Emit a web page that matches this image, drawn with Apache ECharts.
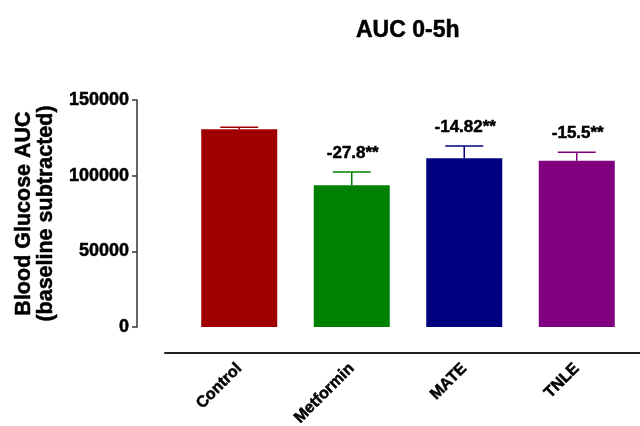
<!DOCTYPE html>
<html>
<head>
<meta charset="utf-8">
<script src="https://cdn.jsdelivr.net/npm/echarts@6/dist/echarts.min.js"></script>
<style>html,body{margin:0;padding:0;background:#fff}#c{width:640px;height:426px}</style>
</head>
<body>
<div id="c"></div>
<script>
const categories = ["Control", "Metformin", "MATE", "TNLE"];
const values = [130700, 93700, 111500, 109900];
const errors = [1300, 8800, 8100, 5500];
const annotations = ["", "-27.8**", "-14.82**", "-15.5**"];
const colors = ["#a00000", "#008000", "#000080", "#800080"];
const yTicks = [0, 50000, 100000, 150000];

const FONT = "'Liberation Sans', Arial, sans-serif";
const THICK = { textBorderColor: '#000', textBorderWidth: 0.5 };
const chart = echarts.init(document.getElementById('c'));

chart.setOption({
  backgroundColor: '#fff',
  animation: false,
  title: {
    text: 'AUC 0-5h',
    left: 351, top: 14,
    textStyle: Object.assign({ fontFamily: FONT, fontSize: 23, fontWeight: 'bold', color: '#000' }, THICK)
  },
  grid: [
    { left: 183, width: 450, top: 100, height: 227, outerBoundsMode: 'none', containLabel: false },
    { left: 165, right: 0, top: 352, height: 1, outerBoundsMode: 'none', containLabel: false }
  ],
  xAxis: [
    {
      type: 'category', gridIndex: 0, data: categories, offset: 26,
      axisLine: { show: false }, axisTick: { show: false },
      axisLabel: Object.assign({ rotate: 45, margin: 13, fontFamily: FONT, fontSize: 16, fontWeight: 'bold', color: '#000', interval: 0 }, THICK)
    },
    {
      type: 'value', gridIndex: 1, min: 0, max: 1,
      axisLine: { show: true, lineStyle: { color: '#222', width: 2 } },
      axisTick: { show: false }, axisLabel: { show: false }, splitLine: { show: false }
    }
  ],
  yAxis: [
    {
      type: 'value', gridIndex: 0, min: yTicks[0], max: yTicks[yTicks.length - 1], interval: 50000,
      offset: 46,
      name: 'Blood Glucose AUC\n(baseline subtracted)',
      nameLocation: 'middle', nameGap: 75,
      nameTextStyle: Object.assign({ fontFamily: FONT, fontSize: 21.5, fontWeight: 'bold', color: '#000', lineHeight: 22 }, THICK),
      axisLine: { show: true, lineStyle: { color: '#333', width: 1.5 } },
      axisTick: { show: true, length: 5, lineStyle: { color: '#333', width: 1.5 } },
      axisLabel: Object.assign({ margin: 8, fontFamily: FONT, fontSize: 18, fontWeight: 'bold', color: '#000',
        formatter: function (v) { return String(v); } }, THICK),
      splitLine: { show: false }
    },
    { type: 'value', gridIndex: 1, show: false }
  ],
  series: [
    {
      type: 'bar', xAxisIndex: 0, yAxisIndex: 0, barWidth: 76,
      data: values.map((v, i) => ({ value: v, itemStyle: { color: colors[i] } })),
      z: 2
    },
    {
      type: 'custom', xAxisIndex: 0, yAxisIndex: 0, z: 3,
      data: values.map((v, i) => [i, v, v + errors[i]]),
      renderItem: function (params, api) {
        const i = api.value(0);
        const base = api.coord([i, api.value(1)]);
        const top = api.coord([i, api.value(2)]);
        const half = 19;
        const col = colors[i];
        const children = [
          { type: 'line', shape: { x1: base[0], y1: base[1], x2: top[0], y2: top[1] }, style: { stroke: col, lineWidth: 1.5 } },
          { type: 'line', shape: { x1: top[0] - half, y1: top[1], x2: top[0] + half, y2: top[1] }, style: { stroke: col, lineWidth: 1.5 } }
        ];
        if (annotations[i]) {
          children.push({
            type: 'text',
            style: { text: annotations[i], x: top[0] + 1, y: top[1] - 19, align: 'center', verticalAlign: 'middle',
              font: 'bold 17px ' + FONT, fill: '#000', stroke: '#000', lineWidth: 0.5 }
          });
        }
        return { type: 'group', children: children };
      }
    }
  ]
});
</script>
</body>
</html>
